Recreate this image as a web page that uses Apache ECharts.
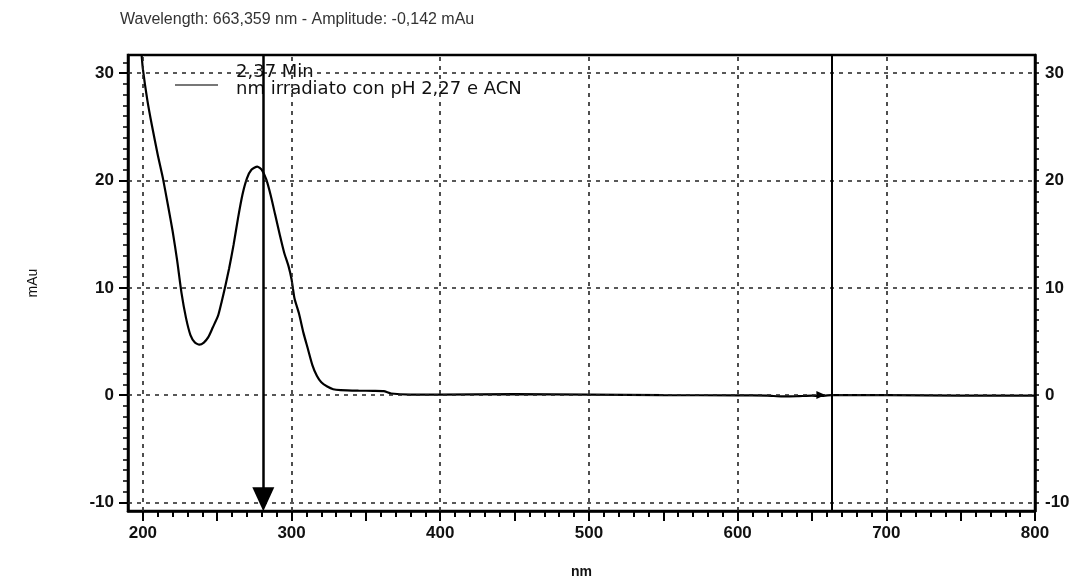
<!DOCTYPE html>
<html>
<head>
<meta charset="utf-8">
<script src="https://cdn.jsdelivr.net/npm/echarts@6/dist/echarts.min.js"></script>
<style>html,body{margin:0;padding:0;background:#fff}#c{width:1078px;height:580px}</style>
</head>
<body>
<div id="c"></div>
<script>
// ---- data ----
const wavelength = [199,200,203,206,210,213.5,217,220,223,226,229,232,235,238,241,244,247,250.6,253,255.5,258,261,264,267,270,273,277,280,283,286,289,292,295,298,300,302,305,308,311,314,317,320,324,328,333,345,355,362,367,380,400,450,500,550,600,620,630,640,650,655,663,700,750,800];
const amplitude  = [32,30.4,27.5,25.2,22.4,20.2,17.6,15.3,12.6,9.5,7.2,5.6,4.9,4.7,4.9,5.4,6.3,7.4,8.7,10.2,11.8,14.0,16.5,18.7,20.2,21.0,21.3,21.0,20.1,18.6,16.8,15.0,13.3,12.0,10.8,9.0,7.6,5.8,4.3,2.8,1.8,1.2,0.8,0.55,0.47,0.42,0.4,0.37,0.15,0.05,0.05,0.1,0.05,0.0,-0.02,-0.05,-0.12,-0.1,-0.05,-0.08,0.0,0.0,-0.05,-0.05];
const xTickLabels = [200,300,400,500,600,700,800];
const xMajorTicks = [200,250,300,350,400,450,500,550,600,650,700,750,800];
const yTickLabels = [-10,0,10,20,30];
const xGrid = [200,300,400,500,600,700];
const yGrid = [-10,0,10,20,30];
const markerArrowNm = 281;
const markerCursorNm = 663.359;
const cursorPoint = [656, 0];
const titleText = 'Wavelength: 663,359 nm - Amplitude: -0,142 mAu';
const legendNames = ['2,37 Min', 'nm irradiato con pH 2,27 e ACN'];

const X_MIN = 190, X_MAX = 800, Y_MIN = -10.8, Y_MAX = 31.7;
const yMinorTicks = [];
for (let v = -10; v <= 31; v++) yMinorTicks.push(v);
const xMinorTicks = [];
for (let v = 200; v <= 800; v += 10) xMinorTicks.push(v);

const FONT = '"Liberation Sans", Arial, sans-serif';
const LFONT = '"DejaVu Sans", sans-serif';
const gridDash = { color: '#222', width: 1.6, type: [4, 5] };

const markData = [];
xGrid.forEach(v => markData.push([{ coord: [v, Y_MIN], lineStyle: gridDash }, { coord: [v, Y_MAX] }]));
yGrid.forEach(v => markData.push([{ coord: [X_MIN, v], lineStyle: gridDash }, { coord: [X_MAX, v] }]));
markData.push([{ coord: [markerCursorNm, Y_MAX], lineStyle: { color: '#000', width: 2, type: 'solid' } }, { coord: [markerCursorNm, Y_MIN] }]);
markData.push([{ coord: [markerArrowNm, Y_MAX], symbol: 'none', lineStyle: { color: '#000', width: 2.5, type: 'solid' } },
               { coord: [markerArrowNm, -9.7], symbol: 'triangle', symbolSize: [22, 24] }]);

const chart = echarts.init(document.getElementById('c'), null, { renderer: 'canvas' });
chart.setOption({
  animation: false,
  backgroundColor: '#fff',
  title: {
    text: titleText, left: 115, top: 7,
    textStyle: { fontFamily: FONT, fontSize: 16, fontWeight: 'normal', color: '#333' }
  },
  grid: { left: 128, right: 43, top: 55, bottom: 69, outerBoundsMode: 'none', containLabel: false,
          show: true, borderColor: '#000', borderWidth: 2.5, backgroundColor: 'transparent' },
  xAxis: [{
    type: 'value', min: X_MIN, max: X_MAX, position: 'bottom',
    name: 'nm', nameLocation: 'middle', nameGap: 54,
    nameTextStyle: { fontFamily: FONT, fontSize: 14, fontWeight: 'bold', color: '#111' },
    axisLine: { show: true, onZero: false, lineStyle: { color: '#000', width: 2.5 } },
    axisTick: { show: true, length: 6, lineStyle: { color: '#000', width: 2 }, customValues: xMinorTicks },
    axisLabel: { customValues: xTickLabels, margin: 14, fontFamily: FONT, fontSize: 17, fontWeight: 'bold', color: '#111' },
    splitLine: { show: false }
  }, {
    type: 'value', min: X_MIN, max: X_MAX, position: 'bottom', offset: 0,
    axisLine: { show: false, onZero: false },
    axisTick: { show: true, length: 10, lineStyle: { color: '#000', width: 2 }, customValues: xMajorTicks },
    axisLabel: { show: false },
    splitLine: { show: false }
  }],
  yAxis: [{
    type: 'value', min: Y_MIN, max: Y_MAX, position: 'left',
    name: 'mAu', nameLocation: 'middle', nameGap: 88, nameRotate: 90,
    nameTextStyle: { fontFamily: FONT, fontSize: 14, fontWeight: 'normal', color: '#111' },
    axisLine: { show: true, onZero: false, lineStyle: { color: '#000', width: 2.5 } },
    axisTick: { show: true, length: 5, lineStyle: { color: '#000', width: 1.5 }, customValues: yMinorTicks },
    axisLabel: { customValues: yTickLabels, margin: 14, fontFamily: FONT, fontSize: 17, fontWeight: 'bold', color: '#111' },
    splitLine: { show: false }
  }, {
    type: 'value', min: Y_MIN, max: Y_MAX, position: 'right',
    axisLine: { show: true, onZero: false, lineStyle: { color: '#000', width: 2.5 } },
    axisTick: { show: true, length: 4, lineStyle: { color: '#000', width: 1.5 }, customValues: yMinorTicks },
    axisLabel: { customValues: yTickLabels, margin: 10, fontFamily: FONT, fontSize: 17, fontWeight: 'bold', color: '#111' },
    splitLine: { show: false }
  }, {
    type: 'value', min: Y_MIN, max: Y_MAX, position: 'left', offset: 0,
    axisLine: { show: false, onZero: false },
    axisTick: { show: true, length: 9, lineStyle: { color: '#000', width: 2 }, customValues: yTickLabels },
    axisLabel: { show: false },
    splitLine: { show: false }
  }],
  series: [{
    type: 'line', name: legendNames[1],
    data: wavelength.map((x, i) => [x, amplitude[i]]),
    showSymbol: false, smooth: 0.2, clip: true,
    lineStyle: { color: '#000', width: 2.2 },
    markLine: { silent: true, symbol: 'none', label: { show: false }, animation: false, data: markData },
    markPoint: { silent: true, label: { show: false }, data: [{ coord: cursorPoint, symbol: 'triangle', symbolSize: [8, 9], symbolRotate: -90, itemStyle: { color: '#000' } }] }
  }],
  graphic: [
    { type: 'text', left: 236, top: 63, style: { text: legendNames[0], fontFamily: LFONT, fontSize: 18, fill: '#111' } },
    { type: 'line', shape: { x1: 175, y1: 85, x2: 218, y2: 85 }, style: { stroke: '#777', lineWidth: 2 } },
    { type: 'text', left: 236, top: 80, style: { text: legendNames[1], fontFamily: LFONT, fontSize: 18, fill: '#111' } }
  ]
});
</script>
</body>
</html>
